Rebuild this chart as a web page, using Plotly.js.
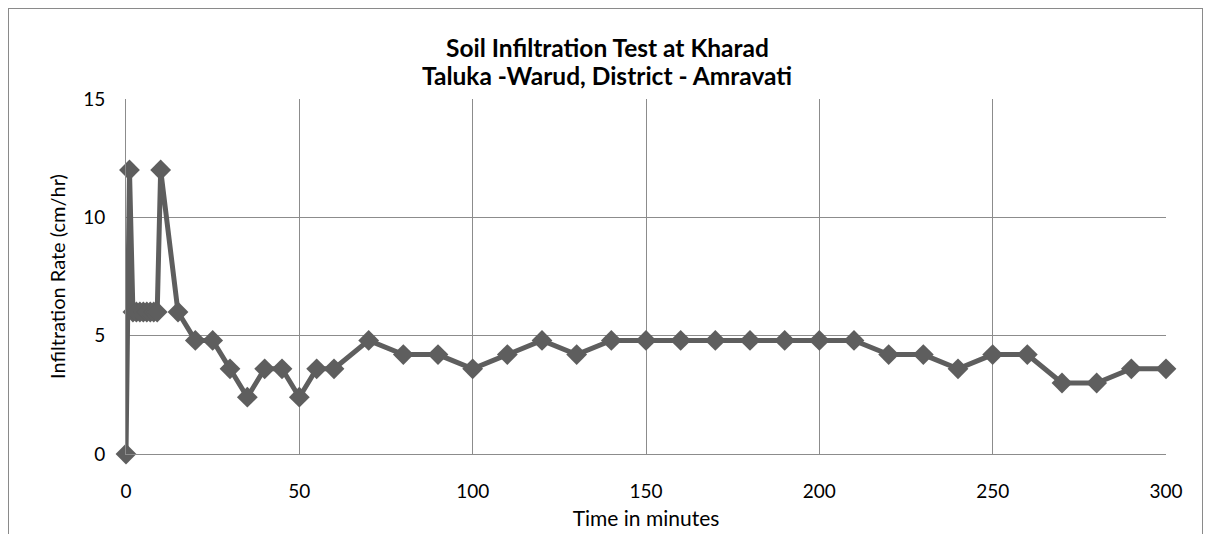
<!DOCTYPE html>
<html><head><meta charset="utf-8">
<script src="https://cdn.plot.ly/plotly-3.0.1.min.js"></script>
<style>
html,body{margin:0;padding:0;background:#fff;overflow:hidden;}
#frame{position:absolute;left:8px;top:8px;width:1195px;height:600px;border:1px solid #8a8a8a;box-sizing:border-box;pointer-events:none;z-index:5;}
#chart{position:absolute;left:0;top:0;width:1212px;height:534px;}
</style></head>
<body>
<div id="chart"></div>
<div id="frame"></div>
<script>
const timeMinutes = [0,1,2,3,4,5,6,7,8,9,10,15,20,25,30,35,40,45,50,55,60,70,80,90,100,110,120,130,140,150,160,170,180,190,200,210,220,230,240,250,260,270,280,290,300];
const infiltrationRate = [0,12,6,6,6,6,6,6,6,6,12,6,4.8,4.8,3.6,2.4,3.6,3.6,2.4,3.6,3.6,4.8,4.2,4.2,3.6,4.2,4.8,4.2,4.8,4.8,4.8,4.8,4.8,4.8,4.8,4.8,4.2,4.2,3.6,4.2,4.2,3.0,3.0,3.6,3.6];
const xTicks = [0,50,100,150,200,250,300];
const yTicks = [0,5,10,15];
const titleLines = ['Soil Infiltration Test at Kharad', 'Taluka -Warud, District - Amravati'];

const font = 'Lato, Carlito, Calibri, "Liberation Sans", sans-serif';
const trace = {
  x: timeMinutes, y: infiltrationRate, type: 'scatter', mode: 'lines+markers',
  line: {color: '#5e5e5e', width: 5},
  marker: {symbol: 'diamond', size: 16, color: '#5e5e5e', line: {width: 0}},
  cliponaxis: false, hoverinfo: 'x+y'
};
const layout = {
  width: 1212, height: 534,
  margin: {l: 126, r: 46, t: 99, b: 80},
  paper_bgcolor: '#fff', plot_bgcolor: '#fff',
  font: {family: font, size: 19, color: '#000'},
  showlegend: false,
  annotations: titleLines.map((t, i) => ({
    text: '<b>' + t + '</b>', showarrow: false,
    xref: 'paper', yref: 'paper', x: (607 - 126) / 1040, xanchor: 'center',
    y: (454 - (48 + i * 27)) / 355, yanchor: 'middle',
    font: {family: font, size: 24.5, color: '#000'}
  })),
  xaxis: {range: [0, 300], tickvals: xTicks, ticktext: xTicks.map(String),
    showgrid: true, gridcolor: '#8c8c8c', gridwidth: 1, zeroline: false,
    showline: true, linecolor: '#8c8c8c', linewidth: 1, mirror: false,
    ticks: 'outside', ticklen: 20, tickcolor: 'rgba(0,0,0,0)',
    tickfont: {family: font, size: 19},
    title: {text: 'Time in minutes', font: {family: font, size: 21}, standoff: 10}},
  yaxis: {range: [0, 15], tickvals: yTicks, ticktext: yTicks.map(String),
    showgrid: true, gridcolor: '#8c8c8c', gridwidth: 1, zeroline: false,
    showline: true, linecolor: '#8c8c8c', linewidth: 1,
    ticks: 'outside', ticklen: 16, tickcolor: 'rgba(0,0,0,0)',
    tickfont: {family: font, size: 19},
    title: {text: 'Infiltration Rate (cm/hr)', font: {family: font, size: 20}, standoff: 12}}
};
Plotly.newPlot('chart', [trace], layout, {displayModeBar: false, staticPlot: true});
</script>
</body></html>
